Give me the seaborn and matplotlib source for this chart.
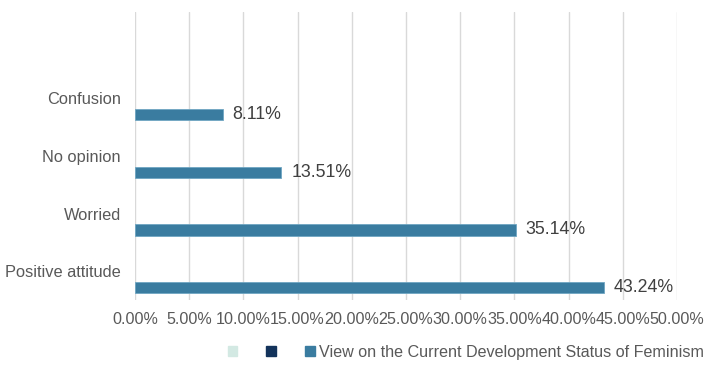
import numpy as np
import pandas as pd
import matplotlib
matplotlib.use("Agg")
import matplotlib.pyplot as plt
import matplotlib.patches as mpatches
import seaborn as sns

# categories top to bottom (first slot is empty in the original chart)
categories = ["", "Confusion", "No opinion", "Worried", "Positive attitude"]
shown = ["Confusion", "No opinion", "Worried", "Positive attitude"]
values = [0.0811, 0.1351, 0.3514, 0.4324]
series = ["s1", "s2", "View on the Current Development Status of Feminism"]
series_colors = ["#d3e9e3", "#13335b", "#3a7ca0"]
xticks = np.arange(0, 0.501, 0.05)

df = pd.DataFrame({"Attitude": shown, "Share": values, "Series": series[2]})

sns.set_theme(style="white")
plt.rcParams["font.family"] = ["Liberation Sans", "DejaVu Sans"]

fig = plt.figure(figsize=(7.18, 3.74), dpi=100)
ax = fig.add_axes([0.188, 0.198, 0.755, 0.770])

sns.barplot(data=df, x="Share", y="Attitude", hue="Series", order=categories,
            hue_order=series, palette=series_colors, width=0.85, gap=0.3,
            dodge=True, saturation=1, orient="h", legend=False, ax=ax,
            edgecolor="#6fa6c2", linewidth=0.6)

ax.set_xlim(0, 0.5)
ax.set_ylim(len(categories) - 0.5, -0.5)
ax.set_xticks(xticks)
ax.set_xticklabels([f"{t*100:.2f}%" for t in xticks], fontsize=11.6, color="#595959")
ax.tick_params(axis="y", labelsize=11.8, labelcolor="#595959", length=0, pad=10)
ax.tick_params(axis="x", length=0, pad=9)
ax.set_xlabel("")
ax.set_ylabel("")
ax.xaxis.grid(True, color="#d9d9d9", linewidth=1)
ax.set_axisbelow(True)
for s in ax.spines.values():
    s.set_visible(False)

# value labels at the end of each bar
for bar in ax.patches:
    w = bar.get_width()
    if w > 0:
        ax.text(w + 0.009, bar.get_y() + bar.get_height() / 2, f"{w*100:.2f}%",
                va="center", ha="left", fontsize=12.8, color="#404040")

handles = [mpatches.Patch(color=c) for c in series_colors]
labels = ["", "", series[2]]
fig.legend(handles, labels, loc="center", bbox_to_anchor=(0.649, 0.058), ncol=3,
           frameon=False, fontsize=11.6, handlelength=0.6, handleheight=0.6,
           handletextpad=0.3, columnspacing=1.5, labelcolor="#595959")

fig.savefig("out.png", dpi=100)
